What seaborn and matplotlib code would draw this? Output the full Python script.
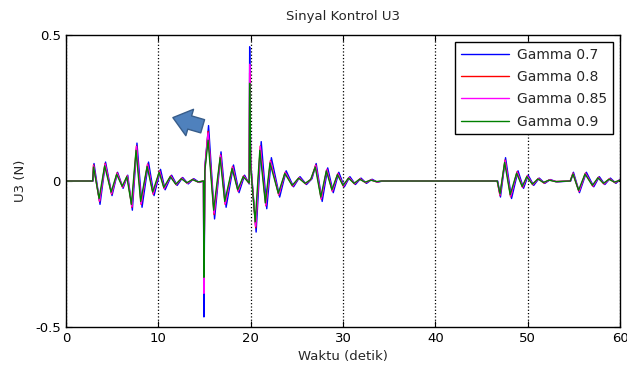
import pandas as pd
import numpy as np
import matplotlib
matplotlib.use('Agg')
import matplotlib.pyplot as plt
import seaborn as sns

# time knots (s); the lower gammas lag slightly behind
waktu_g090 = [0, 2.9, 3.0, 3.6, 4.2, 4.9, 5.5, 6.1, 6.6, 7.1,
              7.6, 8.1, 8.8, 9.4, 10.1, 10.6, 11.3, 11.9, 12.5, 13.1,
              13.7, 14.3, 14.9, 14.95, 15.05, 15.4, 16.0, 16.7, 17.2, 18.0,
              18.6, 19.2, 19.85, 19.9, 20.0, 20.5, 21.0, 21.6, 22.1, 23.0,
              23.7, 24.5, 25.2, 25.9, 26.5, 27.0, 27.6, 28.2, 28.8, 29.4,
              30.0, 30.6, 31.2, 31.8, 32.4, 33.0, 33.6, 34.2, 46.7, 47.0,
              47.5, 48.1, 48.8, 49.4, 49.9, 50.5, 51.1, 51.7, 52.3, 53.0,
              54.6, 54.9, 55.5, 56.2, 57.0, 57.6, 58.2, 58.8, 59.4, 60.0]

waktu_g08x = [0, 2.9, 3.0, 3.65, 4.25, 4.95, 5.55, 6.15, 6.65, 7.15,
              7.65, 8.15, 8.85, 9.45, 10.15, 10.65, 11.35, 11.95, 12.55, 13.15,
              13.75, 14.35, 14.9, 14.95, 15.05, 15.4, 16.05, 16.75, 17.25, 18.05,
              18.65, 19.25, 19.85, 19.9, 20.0, 20.55, 21.05, 21.65, 22.15, 23.05,
              23.75, 24.55, 25.25, 25.95, 26.55, 27.05, 27.65, 28.25, 28.85, 29.45,
              30.05, 30.65, 31.25, 31.85, 32.45, 33.05, 33.65, 34.25, 46.7, 47.0,
              47.55, 48.15, 48.85, 49.45, 49.95, 50.55, 51.15, 51.75, 52.35, 53.05,
              54.6, 54.9, 55.55, 56.25, 57.05, 57.65, 58.25, 58.85, 59.45, 60.0]

waktu_g070 = [0, 2.95, 3.05, 3.7, 4.3, 5.0, 5.6, 6.2, 6.7, 7.2,
              7.7, 8.25, 8.95, 9.55, 10.25, 10.75, 11.45, 12.05, 12.65, 13.25,
              13.85, 14.45, 14.9, 14.95, 15.05, 15.45, 16.1, 16.8, 17.35, 18.15,
              18.75, 19.35, 19.85, 19.9, 20.0, 20.6, 21.15, 21.75, 22.25, 23.15,
              23.85, 24.65, 25.35, 26.05, 26.65, 27.1, 27.75, 28.35, 28.95, 29.55,
              30.15, 30.75, 31.35, 31.95, 32.55, 33.15, 33.75, 34.3, 46.75, 47.05,
              47.6, 48.25, 48.95, 49.55, 50.05, 50.65, 51.25, 51.85, 52.45, 53.15,
              54.65, 54.95, 55.6, 56.35, 57.15, 57.75, 58.35, 58.95, 59.55, 60.0]

u3_g070 = [0, 0, 0.06, -0.08, 0.065, -0.05, 0.03, -0.025, 0.02, -0.10,
           0.13, -0.09, 0.065, -0.05, 0.04, -0.03, 0.02, -0.015, 0.012, -0.01,
           0.008, -0.005, 0, -0.466, 0.05, 0.19, -0.13, 0.10, -0.09, 0.055,
           -0.04, 0.02, -0.01, 0.46, 0.07, -0.175, 0.135, -0.095, 0.08, -0.055,
           0.035, -0.02, 0.015, -0.012, 0.008, 0.06, -0.07, 0.045, -0.04, 0.03,
           -0.02, 0.015, -0.012, 0.01, -0.008, 0.006, -0.004, 0, 0, -0.055,
           0.08, -0.06, 0.035, -0.025, 0.02, -0.015, 0.01, -0.008, 0.005, -0.003,
           0, 0.03, -0.04, 0.03, -0.02, 0.015, -0.012, 0.01, -0.008, 0.006]

u3_g080 = [0, 0, 0.055, -0.07, 0.06, -0.045, 0.028, -0.022, 0.018, -0.09,
           0.12, -0.08, 0.058, -0.045, 0.035, -0.026, 0.018, -0.013, 0.01, -0.008,
           0.006, -0.004, 0, -0.36, 0.04, 0.17, -0.115, 0.09, -0.08, 0.05,
           -0.035, 0.018, -0.008, 0.37, 0.06, -0.16, 0.12, -0.085, 0.07, -0.048,
           0.03, -0.018, 0.012, -0.01, 0.006, 0.055, -0.062, 0.04, -0.035, 0.026,
           -0.018, 0.012, -0.01, 0.008, -0.006, 0.004, -0.003, 0, 0, -0.05,
           0.072, -0.054, 0.032, -0.022, 0.018, -0.013, 0.009, -0.007, 0.004, -0.002,
           0, 0.027, -0.036, 0.027, -0.018, 0.013, -0.01, 0.008, -0.006, 0.004]

u3_g085 = [0, 0, 0.052, -0.068, 0.058, -0.043, 0.026, -0.021, 0.017, -0.088,
           0.118, -0.078, 0.056, -0.043, 0.033, -0.025, 0.017, -0.012, 0.01, -0.008,
           0.006, -0.004, 0, -0.385, 0.04, 0.165, -0.11, 0.088, -0.078, 0.048,
           -0.034, 0.017, -0.008, 0.40, 0.06, -0.155, 0.118, -0.083, 0.068, -0.046,
           0.029, -0.017, 0.012, -0.009, 0.006, 0.053, -0.06, 0.039, -0.034, 0.025,
           -0.017, 0.012, -0.009, 0.007, -0.005, 0.004, -0.003, 0, 0, -0.048,
           0.07, -0.052, 0.03, -0.021, 0.017, -0.012, 0.008, -0.006, 0.004, -0.002,
           0, 0.026, -0.035, 0.026, -0.017, 0.012, -0.01, 0.007, -0.005, 0.004]

u3_g090 = [0, 0, 0.048, -0.06, 0.052, -0.038, 0.023, -0.018, 0.015, -0.08,
           0.105, -0.07, 0.05, -0.038, 0.03, -0.022, 0.015, -0.011, 0.008, -0.006,
           0.005, -0.003, 0, -0.33, 0.035, 0.14, -0.10, 0.08, -0.07, 0.043,
           -0.03, 0.015, -0.007, 0.335, 0.05, -0.14, 0.105, -0.075, 0.062, -0.042,
           0.026, -0.015, 0.01, -0.008, 0.005, 0.048, -0.055, 0.035, -0.03, 0.022,
           -0.015, 0.01, -0.008, 0.006, -0.004, 0.003, -0.002, 0, 0, -0.044,
           0.064, -0.047, 0.027, -0.019, 0.015, -0.011, 0.007, -0.005, 0.003, -0.002,
           0, 0.024, -0.032, 0.024, -0.015, 0.011, -0.008, 0.006, -0.004, 0.003]

labels = ['Gamma 0.7', 'Gamma 0.8', 'Gamma 0.85', 'Gamma 0.9']
colors = ['#0000ff', '#ff0000', '#ff00ff', '#008000']

# long table for seaborn
df = pd.concat([
    pd.DataFrame({'t': tt, 'u': vals, 'seri': lab})
    for tt, vals, lab in zip([waktu_g070, waktu_g08x, waktu_g08x, waktu_g090],
                             [u3_g070, u3_g080, u3_g085, u3_g090], labels)
])

sns.set_style('ticks')
plt.rcParams['font.family'] = ['DejaVu Sans']
plt.rcParams['axes.unicode_minus'] = False

fig = plt.figure(figsize=(6.27, 3.74), dpi=100)
ax = fig.add_axes([0.105, 0.126, 0.884, 0.780])

sns.lineplot(data=df, x='t', y='u', hue='seri', palette=dict(zip(labels, colors)),
             estimator=None, sort=False, linewidth=1.0, ax=ax)

ax.set_xlim(0, 60)
ax.set_ylim(-0.5, 0.5)
ax.set_xticks([0, 10, 20, 30, 40, 50, 60])
ax.set_yticks([-0.5, 0, 0.5])
ax.set_yticklabels(['-0.5', '0', '0.5'])
ax.tick_params(direction='in', top=True, right=True, length=4, labelsize=9.5, colors='black')
for s in ax.spines.values():
    s.set_color('black')
    s.set_linewidth(1.0)

# vertical dotted grid only
ax.grid(False)
ax.xaxis.grid(True, linestyle=':', color='black', linewidth=0.9)

ax.set_title('Sinyal Kontrol U3', fontsize=9.5, pad=11)
ax.set_xlabel('Waktu (detik)', fontsize=9.5, labelpad=4)
ax.set_ylabel('U3 (N)', fontsize=9.5, labelpad=6)

# block arrow annotation
ax.annotate('', xy=(11.3, 0.22), xytext=(15.1, 0.185),
            arrowprops=dict(arrowstyle='simple,head_width=1.1,head_length=0.7,tail_width=0.55',
                            fc='#4f81bd', ec='#385d8a', lw=1, mutation_scale=18))

leg = ax.legend(loc='upper right', frameon=True, fancybox=False, edgecolor='black',
                framealpha=1, fontsize=10, handlelength=3.5, borderaxespad=0.5,
                labelspacing=0.6, handletextpad=0.6, title=None)
leg.get_frame().set_linewidth(1.0)

fig.savefig('out.png', dpi=100)
